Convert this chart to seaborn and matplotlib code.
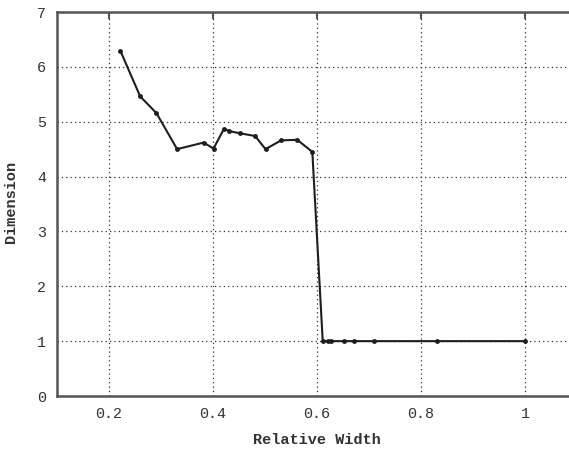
import pandas as pd
import matplotlib
matplotlib.use("Agg")
import matplotlib.pyplot as plt
import seaborn as sns

# values
relative_width = [0.222, 0.260, 0.291, 0.331, 0.382, 0.401, 0.421, 0.431, 0.451,
                  0.481, 0.501, 0.531, 0.562, 0.591, 0.611, 0.621, 0.626, 0.651,
                  0.672, 0.710, 0.831, 1.0]
dimension = [6.29, 5.46, 5.16, 4.50, 4.62, 4.51, 4.87, 4.83, 4.79,
             4.74, 4.50, 4.66, 4.67, 4.45, 1.0, 1.0, 1.0, 1.0,
             1.0, 1.0, 1.0, 1.0]
x_ticks = [0.2, 0.4, 0.6, 0.8, 1.0]
x_tick_labels = ["0.2", "0.4", "0.6", "0.8", "1"]
y_ticks = [0, 1, 2, 3, 4, 5, 6, 7]


def main():
    sns.set_style("white")
    plt.rcParams['font.family'] = ['Liberation Mono', 'DejaVu Sans Mono']

    df = pd.DataFrame({"Relative Width": relative_width, "Dimension": dimension})

    fig = plt.figure(figsize=(5.69, 4.49), dpi=100)
    # axes runs past the right edge, as in the cropped original
    ax = fig.add_axes([57 / 569, 53 / 449, 520 / 569, 384 / 449])

    sns.lineplot(data=df, x="Relative Width", y="Dimension", ax=ax, color="#1e1e1e",
                 linewidth=1.5, marker="o", markersize=3.5, markeredgewidth=0,
                 sort=False)

    ax.set_xlim(0.1, 1.1)
    ax.set_ylim(0, 7)
    ax.set_xticks(x_ticks)
    ax.set_xticklabels(x_tick_labels)
    ax.set_yticks(y_ticks)

    ax.grid(True, linestyle=(0, (1, 2.5)), color="#333333", linewidth=0.9)
    ax.tick_params(direction="in", length=5, width=1.5, color="#555555",
                   labelsize=10.8, labelcolor="#333333", top=True, pad=8)
    for side in ["left", "bottom", "top"]:
        ax.spines[side].set_color("#555555")
        ax.spines[side].set_linewidth(1.8)
    ax.spines["right"].set_visible(False)

    ax.set_xlabel("Relative Width", fontsize=11, color="#333333", fontweight="bold",
                  va="center")
    ax.set_ylabel("Dimension", fontsize=11, color="#333333", fontweight="bold",
                  va="center")
    ax.xaxis.set_label_coords(0.5, -0.115)
    ax.yaxis.set_label_coords(-0.088, 0.505)

    fig.savefig("out.png", dpi=100)


if __name__ == "__main__":
    main()
